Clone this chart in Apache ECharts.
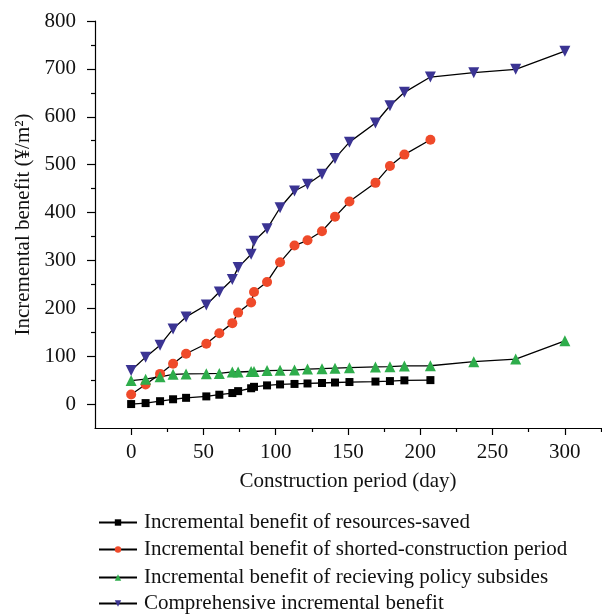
<!DOCTYPE html>
<html>
<head>
<meta charset="utf-8">
<script src="https://cdn.jsdelivr.net/npm/echarts@6/dist/echarts.min.js"></script>
<style>html,body{margin:0;padding:0;background:#fff}#c{width:602px;height:615px}</style>
</head>
<body>
<div id="c"></div>
<script>
const days = [0, 10, 20, 29, 38, 52, 61, 70, 74, 83, 85, 94, 103, 113, 122, 132, 141, 151, 169, 179, 189, 207, 237, 266, 300];
const resourcesSaved = [0, 2, 6, 10, 13, 16, 19.5, 23, 27, 33, 36, 39, 41, 42, 43, 44, 45, 46, 47, 48, 49.5, 50];
const shortedPeriod = [20, 41, 63, 84, 105, 126, 148, 169, 191, 212, 234, 255, 296, 331, 342, 361, 391, 423, 462, 497, 521, 552];
const policySubsides = [49, 52, 57, 62, 63, 63.5, 64, 67, 67, 68, 68, 70, 70.5, 71, 73, 74, 75, 76, 77.5, 78, 79.6, 80, 88.6, 94, 132];
const comprehensive = [70, 98, 123, 157, 182, 207, 234, 260, 285, 313, 340, 366, 410, 445, 459, 480, 513, 547, 587, 623, 651, 683, 692, 699, 737];
const seriesNames = [
  'Incremental benefit of resources-saved',
  'Incremental benefit of shorted-construction period',
  'Incremental benefit of recieving policy subsides',
  'Comprehensive incremental benefit'
];
const xMajorTicks = [0, 50, 100, 150, 200, 250, 300];
const xMinorTicks = [25, 75, 125, 175, 225, 275, 325];
const yMajorTicks = [0, 100, 200, 300, 400, 500, 600, 700, 800];
const yMinorTicks = [50, 150, 250, 350, 450, 550, 650, 750];

const FONT = 'Liberation Serif';
const FS = 21;
function pairs(vals) { return vals.map((v, i) => [days[i], v]); }

const chart = echarts.init(document.getElementById('c'), null, {renderer: 'canvas'});
const axisLine = {show: true, onZero: false, lineStyle: {color: '#000', width: 1.2}};
const hidden = {show: false};
const legendRowTops = [507, 534, 562, 588];
const legends = seriesNames.map((n, i) => ({
  orient: 'vertical', left: 93, top: legendRowTops[i],
  itemWidth: 38, itemHeight: 8, itemGap: 0,
  textStyle: {color: '#111', fontFamily: FONT, fontSize: FS, lineHeight: 20, padding: [0, 0, 0, 2]},
  data: [n]
}));
const option = {
  animation: false,
  backgroundColor: '#fff',
  grid: {left: 95, right: 1, top: 21, bottom: 187, containLabel: false},
  xAxis: [{
    type: 'value', min: -25, max: 325,
    axisLine: axisLine,
    axisTick: {show: true, inside: false, length: 7, lineStyle: {color: '#000', width: 1.2}, customValues: xMajorTicks},
    axisLabel: {show: true, margin: 14, color: '#111', fontFamily: FONT, fontSize: FS, customValues: xMajorTicks},
    splitLine: hidden,
    name: 'Construction period (day)', nameLocation: 'middle', nameGap: 43,
    nameTextStyle: {color: '#111', fontFamily: FONT, fontSize: FS}
  }, {
    type: 'value', min: -25, max: 325, position: 'bottom',
    axisLine: {show: false, onZero: false},
    axisTick: {show: true, length: 4, lineStyle: {color: '#000', width: 1.2}, customValues: xMinorTicks},
    axisLabel: hidden, splitLine: hidden
  }],
  yAxis: [{
    type: 'value', min: -50, max: 800,
    axisLine: axisLine,
    axisTick: {show: true, inside: false, length: 8, lineStyle: {color: '#000', width: 1.2}, customValues: yMajorTicks},
    axisLabel: {show: true, margin: 19, color: '#111', fontFamily: FONT, fontSize: FS, customValues: yMajorTicks},
    splitLine: hidden,
    name: 'Incremental benefit (¥/m²)', nameLocation: 'middle', nameGap: 58,
    nameTextStyle: {color: '#111', fontFamily: FONT, fontSize: FS}
  }, {
    type: 'value', min: -50, max: 800, position: 'left',
    axisLine: {show: false, onZero: false},
    axisTick: {show: true, length: 4, lineStyle: {color: '#000', width: 1.2}, customValues: yMinorTicks},
    axisLabel: hidden, splitLine: hidden
  }],
  legend: legends,
  series: [
    {name: seriesNames[0], type: 'line', data: pairs(resourcesSaved), symbol: 'rect', symbolSize: 8,
     itemStyle: {color: '#000'}, lineStyle: {color: '#000', width: 1.3}},
    {name: seriesNames[1], type: 'line', data: pairs(shortedPeriod), symbol: 'circle', symbolSize: 10,
     itemStyle: {color: '#EF4A2A'}, lineStyle: {color: '#000', width: 1.3}},
    {name: seriesNames[2], type: 'line', data: pairs(policySubsides), symbol: 'triangle', symbolSize: 11,
     itemStyle: {color: '#2EAD4B'}, lineStyle: {color: '#000', width: 1.3}},
    {name: seriesNames[3], type: 'line', data: pairs(comprehensive), symbol: 'triangle', symbolRotate: 180, symbolSize: 11,
     itemStyle: {color: '#3B3493'}, lineStyle: {color: '#000', width: 1.3}}
  ]
};
chart.setOption(option);
</script>
</body>
</html>
